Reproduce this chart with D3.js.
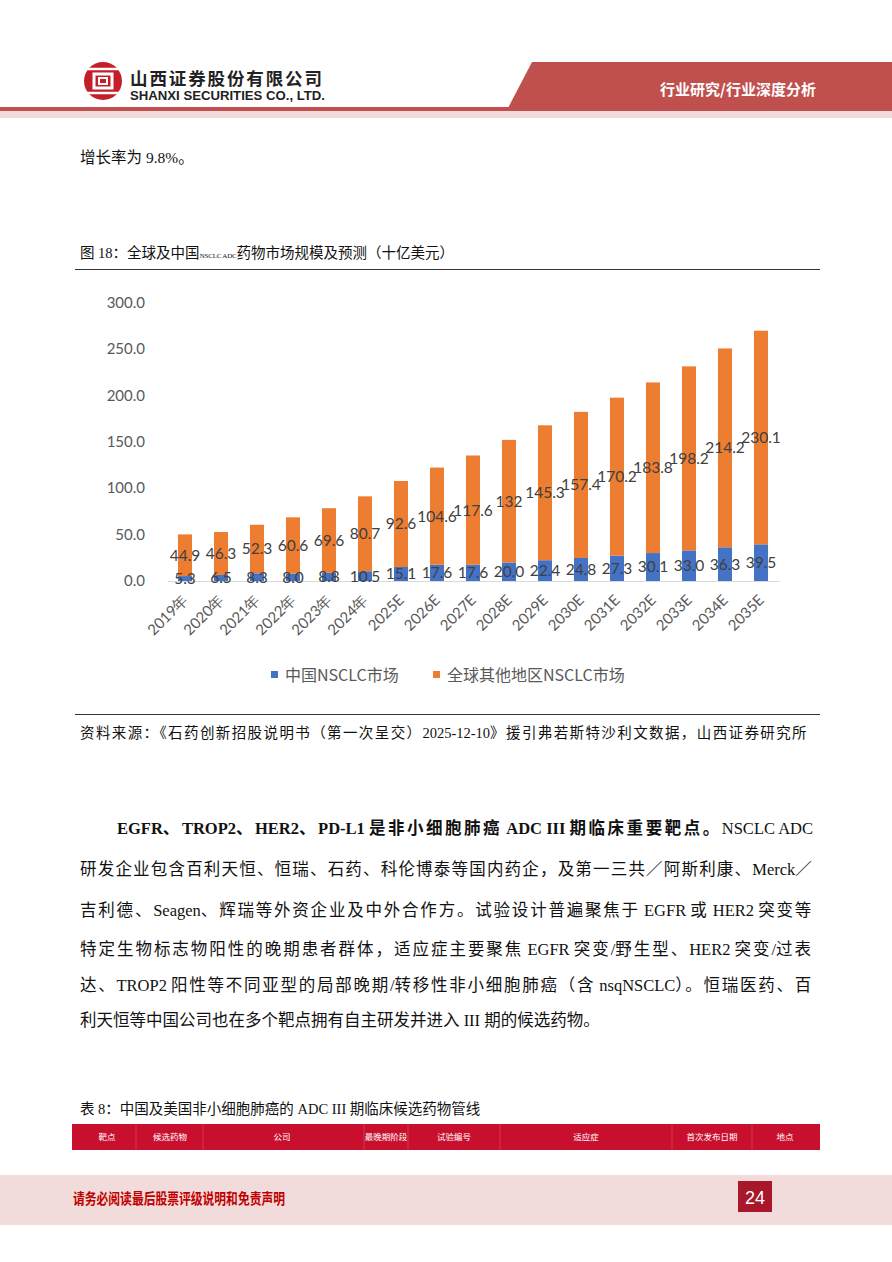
<!DOCTYPE html>
<html><head><meta charset="utf-8">
<script src="https://cdn.jsdelivr.net/npm/d3@7/dist/d3.min.js"></script>
<style>
html,body{margin:0;padding:0;background:#fff;}
svg{display:block;}
</style></head>
<body>
<svg id="page" width="892" height="1262"></svg>
<script>
const categories = ["2019年","2020年","2021年","2022年","2023年","2024年","2025E","2026E","2027E","2028E","2029E","2030E","2031E","2032E","2033E","2034E","2035E"];
const chinaValues = [5.3,6.5,8.3,8.0,8.8,10.5,15.1,17.6,17.6,20.0,22.4,24.8,27.3,30.1,33.0,36.3,39.5];
const otherValues = [44.9,46.3,52.3,60.6,69.6,80.7,92.6,104.6,117.6,132,145.3,157.4,170.2,183.8,198.2,214.2,230.1];
const otherLabels = ["44.9","46.3","52.3","60.6","69.6","80.7","92.6","104.6","117.6","132","145.3","157.4","170.2","183.8","198.2","214.2","230.1"];
const yTicks = [0,50,100,150,200,250,300];
const seriesNames = ["中国NSCLC市场","全球其他地区NSCLC市场"];
const seriesColors = ["#4472C4","#ED7D31"];

const svg = d3.select("#page");
const CJK = "'Noto Sans CJK SC','Noto Sans',sans-serif";
const SERIF = "'Liberation Serif','Noto Sans CJK SC',serif";

// ---------- Header ----------
svg.append("rect").attr("x",0).attr("y",111).attr("width",892).attr("height",7).attr("fill","#F2DCDB");
svg.append("rect").attr("x",0).attr("y",107).attr("width",892).attr("height",4).attr("fill","#C0504D");
svg.append("path").attr("d","M532,62 L892,62 L892,108 L508,108 Z").attr("fill","#C0504D");
svg.append("text").attr("x",738).attr("y",95).attr("text-anchor","middle").attr("fill","#fff")
  .attr("font-family",CJK).attr("font-size",15).attr("font-weight","bold").text("行业研究/行业深度分析");
// logo
const lg = svg.append("g").attr("transform","translate(103,81)");
lg.append("circle").attr("r",19).attr("fill","#C41E2A");
lg.append("rect").attr("x",-9).attr("y",-7).attr("width",18).attr("height",14).attr("fill","none").attr("stroke","#fff").attr("stroke-width",3);
lg.append("rect").attr("x",-4).attr("y",-3).attr("width",8).attr("height",6).attr("fill","#C41E2A").attr("stroke","#fff").attr("stroke-width",2);
lg.append("line").attr("x1",-19).attr("x2",19).attr("y1",-12).attr("y2",-12).attr("stroke","#fff").attr("stroke-width",2.5);
lg.append("line").attr("x1",-19).attr("x2",19).attr("y1",12).attr("y2",12).attr("stroke","#fff").attr("stroke-width",2.5);
svg.append("text").attr("x",130).attr("y",85).attr("font-family",CJK).attr("font-size",17.5).attr("font-weight","bold")
  .attr("fill","#222").attr("textLength",192).attr("lengthAdjust","spacing").text("山西证券股份有限公司");
svg.append("text").attr("x",130).attr("y",100).attr("font-family","'Liberation Sans',Arial,sans-serif").attr("font-size",13).attr("font-weight","bold")
  .attr("fill","#222").attr("textLength",195).attr("lengthAdjust","spacingAndGlyphs").text("SHANXI SECURITIES CO., LTD.");

// ---------- Intro line ----------
svg.append("text").attr("x",80).attr("y",163).attr("font-family",SERIF).attr("font-size",15.5).attr("fill","#111").text("增长率为 9.8%。");

// ---------- Figure title ----------
const tt = svg.append("text").attr("x",80).attr("y",258).attr("font-family",SERIF).attr("font-size",14.5).attr("fill","#111");
tt.append("tspan").text("图 18：全球及中国");
tt.append("tspan").attr("font-size",7).attr("letter-spacing",-0.2).text("NSCLC ADC");
tt.append("tspan").text("药物市场规模及预测（十亿美元）");
svg.append("line").attr("x1",75).attr("x2",820).attr("y1",269.5).attr("y2",269.5).attr("stroke","#333").attr("stroke-width",1);

// ---------- Chart ----------
const x = d3.scaleBand().domain(categories).range([167,779]).paddingInner(0.61).paddingOuter(0.305);
const y = d3.scaleLinear().domain([0,300]).range([581,302.5]);
const chartFont = "Lato,'Open Sans',sans-serif";

const yAxis = d3.axisLeft(y).tickValues(yTicks).tickFormat(d3.format(".1f")).tickSize(0).tickPadding(0);
const yg = svg.append("g").attr("transform","translate(145,0)").call(yAxis);
yg.select(".domain").remove();
yg.selectAll("text").attr("font-family",chartFont).attr("font-size",15).attr("fill","#595959");

const xAxis = d3.axisBottom(x).tickSize(0).tickPadding(0);
const xg = svg.append("g").attr("transform","translate(0,581)").call(xAxis);
xg.select(".domain").attr("stroke","#D9D9D9").attr("stroke-width",1.2);
xg.selectAll("text").attr("font-family",chartFont).attr("font-size",15).attr("fill","#595959")
  .attr("text-anchor","end").attr("dy","0").attr("transform","translate(4,20) rotate(-45)");

const stackData = categories.map((c,i)=>({cat:c, china:chinaValues[i], other:otherValues[i], otherLabel:otherLabels[i]}));
const stack = d3.stack().keys(["china","other"])(stackData);
const barsG = svg.append("g");
stack.forEach((layer,li)=>{
  barsG.selectAll(null).data(layer).enter().append("rect")
    .attr("x",d=>x(d.data.cat)).attr("width",x.bandwidth())
    .attr("y",d=>y(d[1])).attr("height",d=>y(d[0])-y(d[1]))
    .attr("fill",seriesColors[li]);
});
stack.forEach((layer,li)=>{
  svg.append("g").selectAll("text").data(layer).enter().append("text")
    .attr("x",d=>x(d.data.cat)+x.bandwidth()/2)
    .attr("y",d=>y((d[0]+d[1])/2))
    .attr("dy","0.35em").attr("text-anchor","middle")
    .attr("font-family",chartFont).attr("font-size",15.5).attr("fill","#404040")
    .text(d=> li===0 ? d.data.china.toFixed(1) : d.data.otherLabel);
});

// legend
const legend = svg.append("g");
const legendItems = [{x:271,tx:285},{x:433,tx:447}];
seriesNames.forEach((n,i)=>{
  legend.append("rect").attr("x",legendItems[i].x).attr("y",671).attr("width",7).attr("height",7).attr("fill",seriesColors[i]);
  legend.append("text").attr("x",legendItems[i].tx).attr("y",681).attr("font-family",CJK).attr("font-size",16).attr("fill","#595959").text(n);
});

// source
svg.append("line").attr("x1",75).attr("x2",820).attr("y1",714.5).attr("y2",714.5).attr("stroke","#333").attr("stroke-width",1);

// justify helper: extra space goes to CJK characters only
function justifiedText(xp, yp, target, parts, size){
  const t = svg.append("text").attr("x",xp).attr("y",yp).attr("font-family",SERIF).attr("font-size",size).attr("fill","#111");
  const runs = [];
  parts.forEach(p=>{
    const re = /([\u3000-\u9fff\uff00-\uffef]+)|([^\u3000-\u9fff\uff00-\uffef]+)/g;
    let m;
    while((m = re.exec(p.t))){ runs.push({t:m[0], cjk:!!m[1], b:p.b}); }
  });
  const spans = runs.map(r=>t.append("tspan").attr("font-weight",r.b?"bold":"normal").text(r.t));
  if(target){
    const natural = t.node().getComputedTextLength();
    const n = d3.sum(runs, r=> r.cjk ? r.t.length : 0);
    const extra = (target - natural) / Math.max(1,n);
    runs.forEach((r,i)=>{ if(r.cjk) spans[i].attr("letter-spacing", extra); });
  }
  return t;
}
justifiedText(80,738,728,[{t:"资料来源：《石药创新招股说明书（第一次呈交）2025-12-10》援引弗若斯特沙利文数据，山西证券研究所",b:false}],14.5);

// ---------- Paragraph ----------
const para = [
  {x:117,y:834,len:696,parts:[{t:"EGFR、TROP2、HER2、PD-L1 是非小细胞肺癌 ADC III 期临床重要靶点。",b:true},{t:"NSCLC ADC",b:false}]},
  {x:80,y:875,len:733,parts:[{t:"研发企业包含百利天恒、恒瑞、石药、科伦博泰等国内药企，及第一三共／阿斯利康、Merck／",b:false}]},
  {x:80,y:916,len:733,parts:[{t:"吉利德、Seagen、辉瑞等外资企业及中外合作方。试验设计普遍聚焦于 EGFR 或 HER2 突变等",b:false}]},
  {x:80,y:955,len:733,parts:[{t:"特定生物标志物阳性的晚期患者群体，适应症主要聚焦 EGFR 突变/野生型、HER2 突变/过表",b:false}]},
  {x:80,y:991,len:733,parts:[{t:"达、TROP2 阳性等不同亚型的局部晚期/转移性非小细胞肺癌（含 nsqNSCLC）。恒瑞医药、百",b:false}]},
  {x:80,y:1026,len:null,parts:[{t:"利天恒等中国公司也在多个靶点拥有自主研发并进入 III 期的候选药物。",b:false}]}
];
para.forEach(p=> justifiedText(p.x,p.y,p.len,p.parts,16.5));

// ---------- Table caption and header ----------
svg.append("text").attr("x",80).attr("y",1114).attr("font-family",SERIF).attr("font-size",14.5).attr("fill","#111").text("表 8：中国及美国非小细胞肺癌的 ADC III 期临床候选药物管线");
svg.append("rect").attr("x",72).attr("y",1124).attr("width",748).attr("height",26).attr("fill","#C8102E");
const cols = [[107,"靶点"],[170,"候选药物"],[282,"公司"],[386,"最晚期阶段"],[454,"试验编号"],[586,"适应症"],[712,"首次发布日期"],[785,"地点"]];
const colBounds = [72,136,203,364,408,500,672,752,820];
colBounds.slice(1,-1).forEach(b=>svg.append("line").attr("x1",b).attr("x2",b).attr("y1",1124).attr("y2",1150).attr("stroke","#E05060").attr("stroke-width",0.6));
cols.forEach(c=>svg.append("text").attr("x",c[0]).attr("y",1140).attr("text-anchor","middle").attr("font-family",CJK)
  .attr("font-size",8.5).attr("fill","#fff").text(c[1]));

// ---------- Footer ----------
svg.append("rect").attr("x",0).attr("y",1175).attr("width",892).attr("height",50).attr("fill","#F2DCDB");
svg.append("text").attr("x",73).attr("y",1204).attr("font-family",CJK).attr("font-size",15).attr("font-weight","bold")
  .attr("fill","#C00000").attr("textLength",212).attr("lengthAdjust","spacingAndGlyphs").text("请务必阅读最后股票评级说明和免责声明");
svg.append("rect").attr("x",738).attr("y",1181).attr("width",34).attr("height",31).attr("fill","#A8182A");
svg.append("text").attr("x",755).attr("y",1204).attr("text-anchor","middle").attr("font-family","'Liberation Sans Narrow','Liberation Sans',sans-serif")
  .attr("font-size",18).attr("fill","#fff").text("24");
</script>
</body></html>
